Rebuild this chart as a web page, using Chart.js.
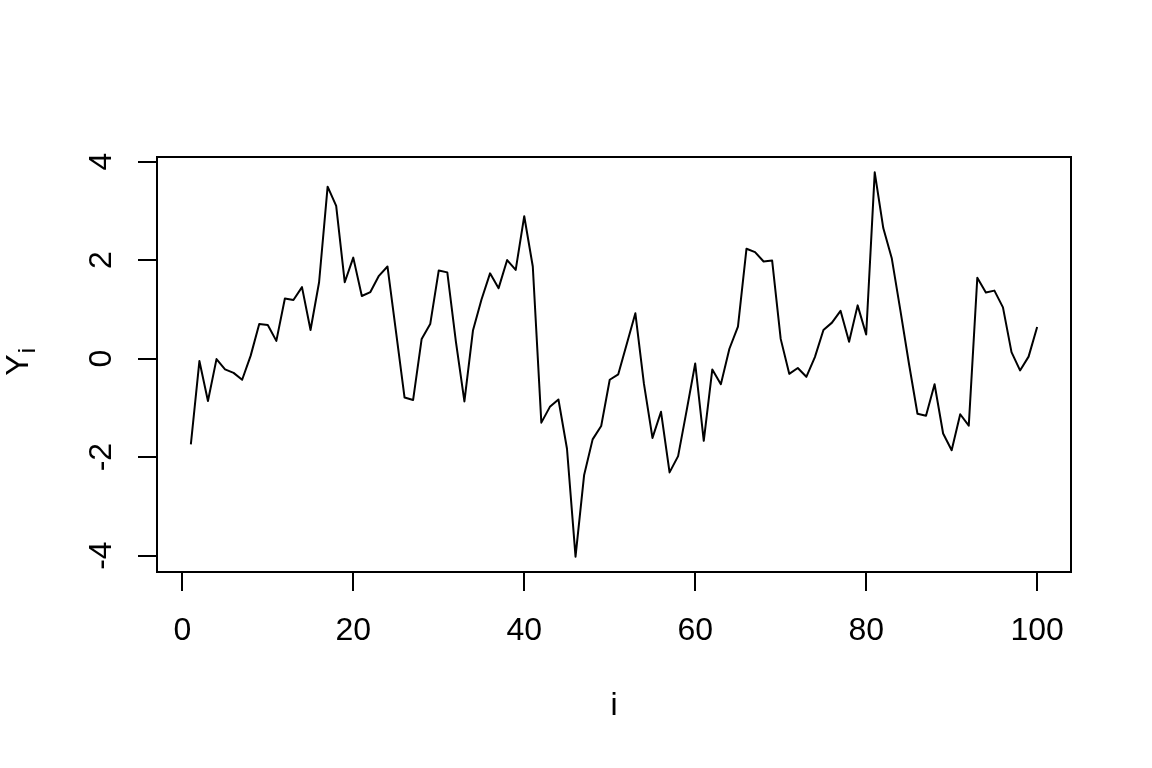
<!DOCTYPE html>
<html>
<head>
<meta charset="utf-8">
<script src="https://cdn.jsdelivr.net/npm/chart.js@4.4.0/dist/chart.umd.min.js"></script>
<style>
  html, body { margin: 0; padding: 0; background: #fff; }
  #wrap { width: 1152px; height: 768px; }
</style>
</head>
<body>
<div id="wrap"><canvas id="seriesChart" width="1152" height="768"></canvas></div>
<script>
// values, i = 1..100
var yValues = [
  -1.74, -0.05, -0.86, -0.01, -0.22, -0.29, -0.43, 0.06, 0.70, 0.68,
  0.36, 1.22, 1.19, 1.45, 0.58, 1.55, 3.49, 3.10, 1.55, 2.05,
  1.27, 1.35, 1.68, 1.87, 0.54, -0.79, -0.84, 0.40, 0.70, 1.79,
  1.75, 0.35, -0.87, 0.57, 1.20, 1.73, 1.43, 2.00, 1.80, 2.89,
  1.87, -1.30, -0.98, -0.83, -1.83, -4.02, -2.37, -1.64, -1.37, -0.43,
  -0.32, 0.30, 0.92, -0.51, -1.61, -1.08, -2.31, -1.98, -1.05, -0.10,
  -1.67, -0.22, -0.52, 0.20, 0.65, 2.23, 2.16, 1.97, 1.99, 0.40,
  -0.31, -0.19, -0.37, 0.03, 0.58, 0.73, 0.97, 0.34, 1.08, 0.49,
  3.78, 2.65, 2.03, 0.98, -0.10, -1.12, -1.16, -0.52, -1.52, -1.86,
  -1.13, -1.36, 1.64, 1.34, 1.38, 1.04, 0.13, -0.24, 0.04, 0.64
];
var xTicks = [0, 20, 40, 60, 80, 100];
var yTicks = [-4, -2, 0, 2, 4];
var xTitle = "i";
var yTitle = "Y";
var yTitleSub = "i";

var FONT = "'Liberation Sans', Arial, Helvetica, sans-serif";

var points = yValues.map(function (v, k) { return { x: k + 1, y: v }; });

// R-like box, rotated y labels and the Y_i title
var rStyle = {
  id: 'rStyle',
  afterDraw: function (chart) {
    var ctx = chart.ctx;
    var a = chart.chartArea;
    var ys = chart.scales.y;
    ctx.save();
    ctx.strokeStyle = '#000';
    ctx.lineWidth = 2;
    ctx.strokeRect(a.left, a.top, a.right - a.left, a.bottom - a.top);

    ctx.fillStyle = '#000';
    ctx.font = '32px ' + FONT;
    ctx.textAlign = 'center';
    ctx.textBaseline = 'alphabetic';
    yTicks.forEach(function (t) {
      ctx.save();
      ctx.translate(111, ys.getPixelForValue(t));
      ctx.rotate(-Math.PI / 2);
      ctx.fillText(String(t), 0, 0);
      ctx.restore();
    });

    ctx.save();
    ctx.translate(28, 365);
    ctx.rotate(-Math.PI / 2);
    ctx.font = '32px ' + FONT;
    ctx.textAlign = 'center';
    ctx.fillText(yTitle, 0, 0);
    var w = ctx.measureText(yTitle).width;
    ctx.font = '24px ' + FONT;
    ctx.textAlign = 'left';
    ctx.fillText(yTitleSub, w / 2 + 1, 7);
    ctx.restore();
    ctx.restore();
  }
};

new Chart("seriesChart", {
  type: "line",
  data: {
    datasets: [{
      data: points,
      borderColor: "#000",
      borderWidth: 2,
      pointRadius: 0,
      tension: 0,
      borderJoinStyle: 'round',
      fill: false
    }]
  },
  options: {
    responsive: false,
    animation: false,
    devicePixelRatio: 1,
    layout: { padding: { top: 157, right: 81, left: 0, bottom: 0 } },
    plugins: {
      legend: { display: false },
      tooltip: { enabled: false }
    },
    scales: {
      x: {
        type: 'linear',
        min: -2.96,
        max: 103.96,
        afterFit: function (s) { s.height = 196; },
        afterBuildTicks: function (s) { s.ticks = xTicks.map(function (v) { return { value: v }; }); },
        border: { display: false },
        grid: { drawOnChartArea: false, drawTicks: true, tickLength: 19, color: '#000', lineWidth: 2 },
        ticks: {
          includeBounds: false,
          color: '#000',
          font: { family: FONT, size: 32 },
          padding: 21,
          maxRotation: 0,
          autoSkip: false
        },
        title: {
          display: true,
          text: xTitle,
          color: '#000',
          font: { family: FONT, size: 32 },
          padding: { top: 0, bottom: 43 }
        }
      },
      y: {
        type: 'linear',
        min: -4.332,
        max: 4.092,
        afterFit: function (s) { s.width = 157; },
        afterBuildTicks: function (s) { s.ticks = yTicks.map(function (v) { return { value: v }; }); },
        border: { display: false },
        grid: { drawOnChartArea: false, drawTicks: true, tickLength: 19, color: '#000', lineWidth: 2 },
        ticks: { display: false }
      }
    }
  },
  plugins: [rStyle]
});
</script>
</body>
</html>
